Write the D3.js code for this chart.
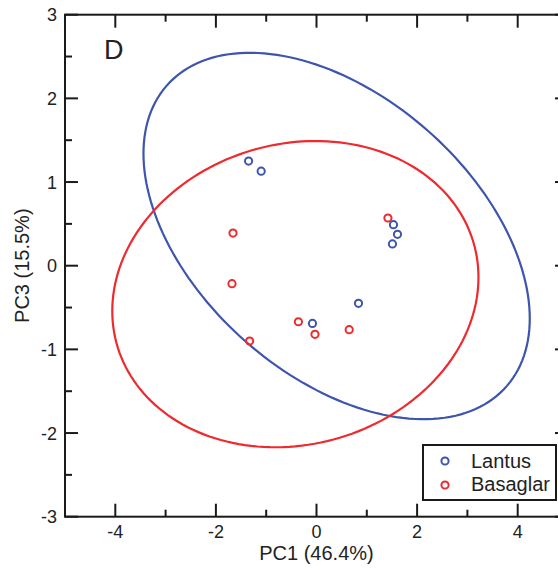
<!DOCTYPE html>
<html>
<head>
<meta charset="utf-8">
<script src="https://cdn.jsdelivr.net/npm/d3@7"></script>
<style>
  html, body { margin: 0; padding: 0; background: #fff; }
  svg { display: block; }
  text { font-family: "Liberation Sans", Arial, Helvetica, sans-serif; fill: #222; }
</style>
</head>
<body>
<script>
// ---- data ----
const seriesNames = ["Lantus", "Basaglar"];
const seriesColors = ["#3d55ad", "#ee2a2e"];
const lantusX = [-1.35, -1.10, 1.53, 1.61, 1.51, 0.835, -0.08];
const lantusY = [1.25, 1.13, 0.49, 0.375, 0.26, -0.45, -0.69];
const basaglarX = [1.42, -1.66, -1.68, -0.36, -0.03, 0.65, -1.33];
const basaglarY = [0.57, 0.39, -0.215, -0.67, -0.82, -0.765, -0.90];
// confidence ellipses: center, half-extent in x and y, correlation
const ellipseCx = [0.40, -0.42];
const ellipseCy = [0.355, -0.34];
const ellipseW = [3.84, 3.64];
const ellipseH = [2.19, 1.83];
const ellipseRho = [-0.45, 0.11];
const xTickLabels = [-4, -2, 0, 2, 4];
const yTickLabels = [-3, -2, -1, 0, 1, 2, 3];
const xMinorTicks = [-5, -3, -1, 1, 3, 5];
const yMinorTicks = [-2.5, -1.5, -0.5, 0.5, 1.5, 2.5];
const xTitle = "PC1 (46.4%)";
const yTitle = "PC3 (15.5%)";
const panelLabel = "D";

// ---- layout ----
const W = 558, H = 572;
const mLeft = 65, mRight = 568, mTop = 14.7, mBottom = 516.7;
const x = d3.scaleLinear().domain([-5, 5]).range([mLeft, mRight]);
const y = d3.scaleLinear().domain([-3, 3]).range([mBottom, mTop]);

const svg = d3.select("body").append("svg").attr("width", W).attr("height", H);

// ellipses
const tVals = d3.range(0, 361, 2).map(d => d * Math.PI / 180);
const line = d3.line().x(d => x(d[0])).y(d => y(d[1]));
ellipseCx.forEach((cx, i) => {
  const delta = Math.acos(ellipseRho[i]);
  const pts = tVals.map(t => [cx + ellipseW[i] * Math.cos(t), ellipseCy[i] + ellipseH[i] * Math.cos(t + delta)]);
  svg.append("path").attr("d", line(pts) + "Z")
    .attr("fill", "none").attr("stroke", seriesColors[i]).attr("stroke-width", 2.2);
});

// points
const series = [[lantusX, lantusY], [basaglarX, basaglarY]];
series.forEach((s, i) => {
  svg.append("g").selectAll("circle").data(s[0].map((v, j) => [v, s[1][j]])).join("circle")
    .attr("cx", d => x(d[0])).attr("cy", d => y(d[1])).attr("r", 3.6)
    .attr("fill", "none").attr("stroke", seriesColors[i]).attr("stroke-width", 2);
});

// frame
const axisColor = "#1a1a1a";
svg.append("rect").attr("x", mLeft).attr("y", mTop).attr("width", mRight - mLeft).attr("height", mBottom - mTop)
  .attr("fill", "none").attr("stroke", axisColor).attr("stroke-width", 2);

const major = 13, minor = 7;
const g = svg.append("g").attr("stroke", axisColor).attr("stroke-width", 2);
xTickLabels.forEach(v => {
  g.append("line").attr("x1", x(v)).attr("x2", x(v)).attr("y1", mBottom).attr("y2", mBottom - major);
  g.append("line").attr("x1", x(v)).attr("x2", x(v)).attr("y1", mTop).attr("y2", mTop + major);
});
xMinorTicks.forEach(v => {
  g.append("line").attr("x1", x(v)).attr("x2", x(v)).attr("y1", mBottom).attr("y2", mBottom - minor);
  g.append("line").attr("x1", x(v)).attr("x2", x(v)).attr("y1", mTop).attr("y2", mTop + minor);
});
yTickLabels.forEach(v => {
  g.append("line").attr("y1", y(v)).attr("y2", y(v)).attr("x1", mLeft).attr("x2", mLeft + major);
  g.append("line").attr("y1", y(v)).attr("y2", y(v)).attr("x1", mRight).attr("x2", mRight - major);
});
yMinorTicks.forEach(v => {
  g.append("line").attr("y1", y(v)).attr("y2", y(v)).attr("x1", mLeft).attr("x2", mLeft + minor);
  g.append("line").attr("y1", y(v)).attr("y2", y(v)).attr("x1", mRight).attr("x2", mRight - minor);
});

// tick labels
svg.append("g").selectAll("text").data(xTickLabels).join("text")
  .attr("x", d => x(d)).attr("y", mBottom + 21.5).attr("text-anchor", "middle")
  .attr("font-size", 18).text(d => d);
svg.append("g").selectAll("text").data(yTickLabels).join("text")
  .attr("x", mLeft - 8).attr("y", d => y(d)).attr("dy", "0.36em").attr("text-anchor", "end")
  .attr("font-size", 18).text(d => d);

// axis titles
svg.append("text").attr("x", x(0)).attr("y", 560).attr("text-anchor", "middle")
  .attr("font-size", 20).text(xTitle);
svg.append("text").attr("transform", `translate(29,${y(0)}) rotate(-90)`).attr("text-anchor", "middle")
  .attr("font-size", 20).text(yTitle);

// panel label
svg.append("text").attr("x", 104).attr("y", 59).attr("font-size", 27).text(panelLabel);

// legend
const lg = svg.append("g");
lg.append("rect").attr("x", 423).attr("y", 445).attr("width", 133).attr("height", 55)
  .attr("fill", "#fff").attr("stroke", axisColor).attr("stroke-width", 2);
seriesNames.forEach((n, i) => {
  lg.append("circle").attr("cx", 445).attr("cy", 461 + i * 24).attr("r", 3.6)
    .attr("fill", "none").attr("stroke", seriesColors[i]).attr("stroke-width", 2);
  lg.append("text").attr("x", 471).attr("y", 468 + i * 23).attr("font-size", 20).text(n);
});
</script>
</body>
</html>
